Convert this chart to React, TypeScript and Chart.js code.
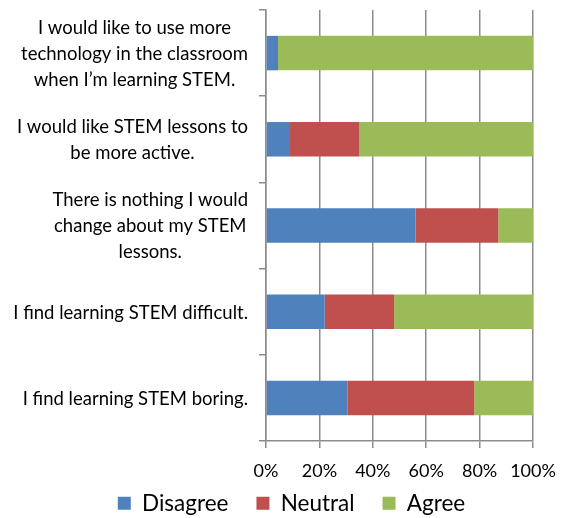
import React, { useEffect, useRef } from "react";
import { Chart, registerables } from "chart.js";

Chart.register(...registerables);

const categories: string[][] = [
  ["I would like to use more", "technology in the classroom", "when I’m learning STEM."],
  ["I would like STEM lessons to", "be more active."],
  ["There is nothing I would", "change about my STEM", "lessons."],
  ["I find learning STEM difficult."],
  ["I find learning STEM boring."],
];
const seriesNames = ["Disagree", "Neutral", "Agree"];
const disagree = [4.5, 9, 56, 22, 30.6];
const neutral = [0, 26, 31, 26, 47.4];
const agree = [95.5, 65, 13, 52, 22];
const xTickValues = [0, 20, 40, 60, 80, 100];

const COLORS = ["#4F81BD", "#C0504D", "#9BBB59"];
const FONT = "Lato";
const LABEL_SIZE = 18.5;
const LINE_H = 26;
const GRID = "#8c8c8c";

const yLabelPlugin = {
  id: "yLabelBlocks",
  afterLayout(chart: any) {
    // let the x tick labels draw below the (short) x-axis box without clipping
    chart.scales.x.bottom = chart.height;
  },
  afterDraw(chart: any) {
    const ys = chart.scales.y;
    const ctx = chart.ctx;
    const labels = chart.data.labels as string[][];
    ctx.save();
    ctx.font = `${LABEL_SIZE}px ${FONT}`;
    ctx.fillStyle = "#000";
    ctx.textBaseline = "middle";
    ctx.textAlign = "center";
    const right = ys.right - 18;
    labels.forEach((lines, i) => {
      const y = ys.getPixelForTick(i) + 1;
      const w = Math.max(...lines.map((l) => ctx.measureText(l).width));
      const cx = right - w / 2;
      lines.forEach((l, j) => {
        ctx.fillText(l, cx, y + (j - (lines.length - 1) / 2) * LINE_H);
      });
    });
    ctx.restore();
  },
};

export default function App() {
  const ref = useRef<HTMLCanvasElement>(null);
  useEffect(() => {
    if (!ref.current) return;
    const chart = new Chart(ref.current, {
      type: "bar",
      data: {
        labels: categories,
        datasets: [disagree, neutral, agree].map((d, i) => ({
          label: seriesNames[i],
          data: d,
          backgroundColor: COLORS[i],
          borderWidth: 0,
          barPercentage: 0.4,
          categoryPercentage: 1,
        })),
      },
      options: {
        indexAxis: "y",
        responsive: false,
        animation: false,
        layout: { padding: { top: 10, right: 31, left: 50, bottom: 0 } },
        scales: {
          x: {
            stacked: true,
            min: 0,
            max: 100,
            afterBuildTicks: (s: any) => {
              s.ticks = xTickValues.map((v) => ({ value: v }));
            },
            ticks: {
              callback: (v: any) => v + "%",
              font: { family: FONT, size: 18 },
              color: "#000",
              padding: 12,
              maxRotation: 0,
            },
            grid: { color: GRID, lineWidth: 1.5, tickLength: 7 },
            border: { display: true, color: GRID, width: 1.5 },
            afterFit: (s: any) => {
              s.height = 23;
              s.paddingLeft = 0;
              s.paddingRight = 0;
            },
          },
          y: {
            stacked: true,
            ticks: { display: false },
            grid: {
              offset: true,
              drawOnChartArea: false,
              drawTicks: true,
              tickLength: 7,
              color: GRID,
              lineWidth: 1.5,
            },
            border: { display: true, color: GRID, width: 1.5 },
            afterFit: (s: any) => {
              s.width = 216;
            },
          },
        },
        plugins: {
          legend: {
            position: "bottom",
            maxHeight: 54,
            labels: {
              boxWidth: 13,
              boxHeight: 13,
              padding: 28,
              color: "#000",
              font: { family: FONT, size: 22.5 },
            },
          },
          tooltip: { enabled: false },
        },
      },
      plugins: [yLabelPlugin],
    } as any);
    return () => chart.destroy();
  }, []);
  return (
    <div style={{ position: "fixed", left: 0, top: 0, width: 564, height: 518, background: "#fff" }}>
      <canvas ref={ref} width={564} height={518} style={{ display: "block" }} />
    </div>
  );
}
